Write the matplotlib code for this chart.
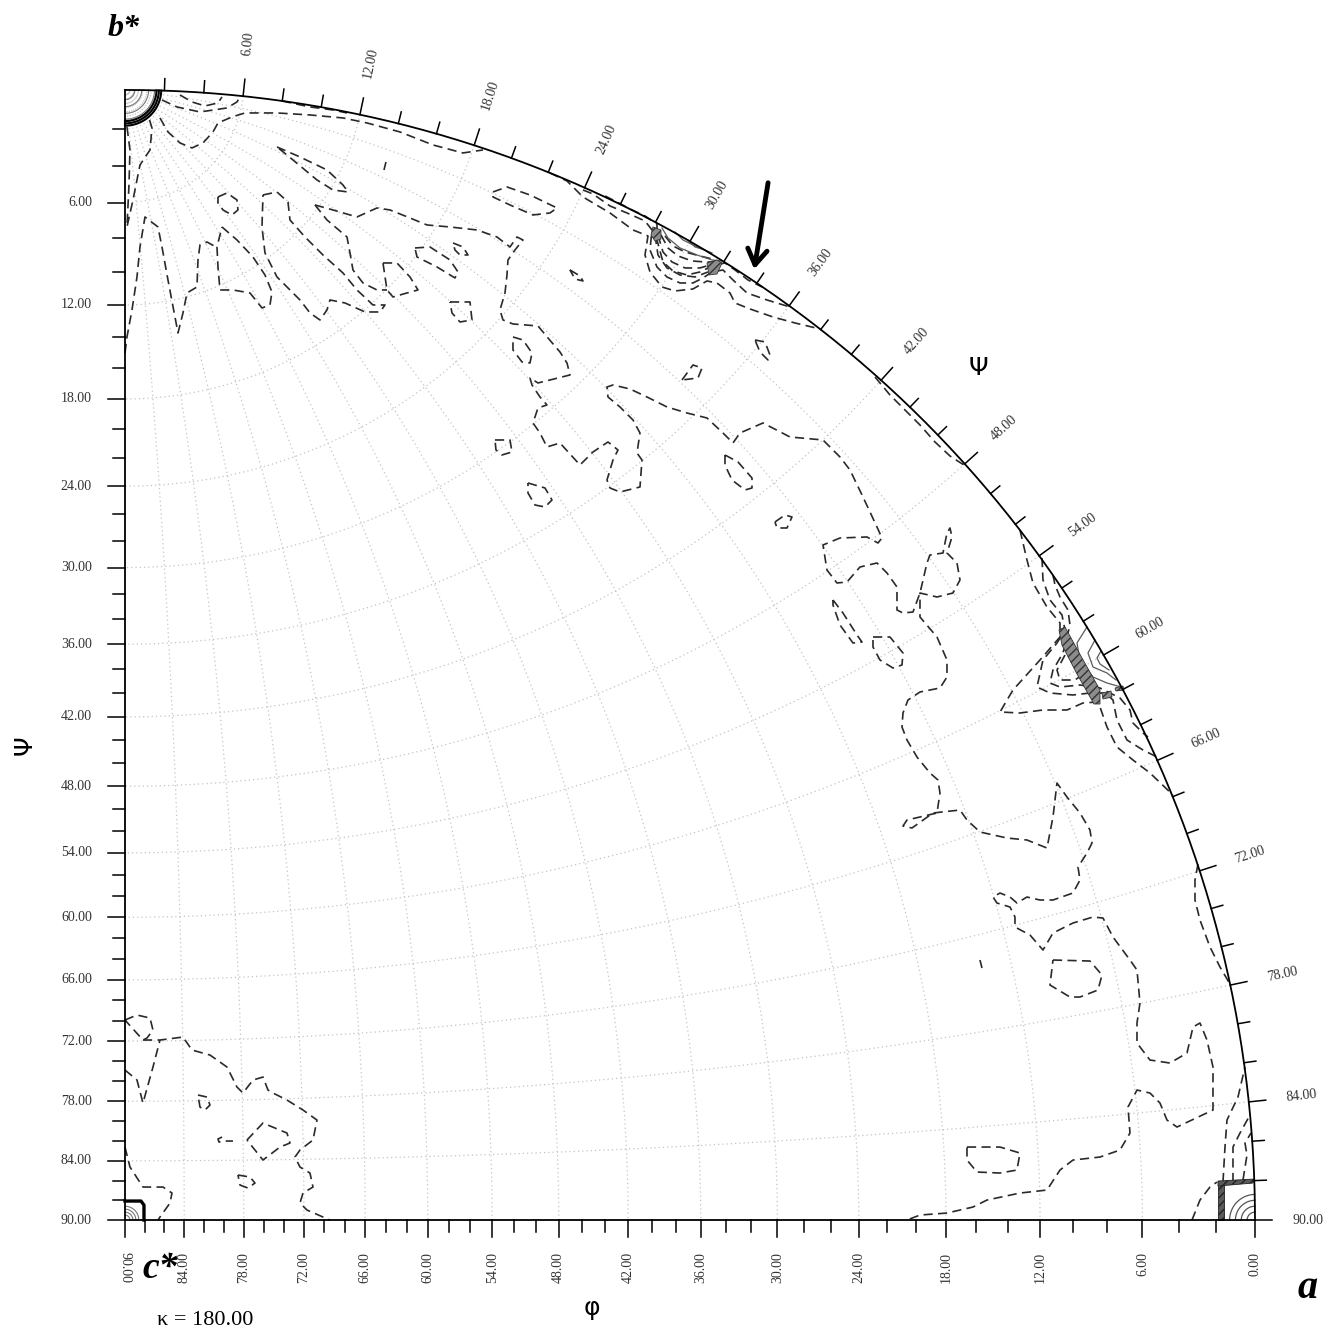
import numpy as np
import matplotlib
matplotlib.use("Agg")
import matplotlib.pyplot as plt
from matplotlib.patches import Polygon

# ---------------- axis values (degrees) ----------------
LEFT_PSI_LABELS = [6, 12, 18, 24, 30, 36, 42, 48, 54, 60, 66, 72, 78, 84, 90]
BOTTOM_PHI_LABELS = [90, 84, 78, 72, 66, 60, 54, 48, 42, 36, 30, 24, 18, 12, 6, 0]
RIM_PSI_LABELS = [6, 12, 18, 24, 30, 36, 42, 48, 54, 60, 66, 72, 78, 84, 90]
GRID_PSI = [6, 12, 18, 24, 30, 36, 42, 48, 54, 60, 66, 72, 78, 84]
GRID_PHI = [6, 12, 18, 24, 30, 36, 42, 48, 54, 60, 66, 72, 78, 84]
TICK_STEP = 2
KAPPA = 180.00

# self-peak contour radii around the crystal axes (angular radius, degrees)
B_STAR_ARCS = [0.5, 0.85, 1.2, 1.5]
B_STAR_DENSE = [1.6, 1.72, 1.84]
C_STAR_ARCS = [0.5, 0.8, 1.1, 1.4]
A_ARCS = [0.4, 0.7, 1.0, 1.3]

# arrow marking the peak near the rim (psi, radius in units of the rim)
ARROW_TIP = (33.5, 1.009)
ARROW_TAIL = (31.8, 1.080)

# ---------------- traced contours (map plane, c* at origin, rim radius = 1130) ----------------
MAP_RADIUS = 1130.0

NOISE_UPPER_LEFT = [
    [(2,1093),(5,1070),(4,1035),(2,993),(8,1020),(15,1055),(25,1070),(27,1092),(23,1105)],
    [(35,1102),(43,1088),(55,1077),(67,1072),(78,1077),(88,1088),(93,1097),(107,1103),(120,1107),
     (152,1107),(185,1105),(218,1102),(242,1097),(275,1088),(308,1075),(338,1067),(358,1070)],
    [(55,1125),(67,1118),(80,1114),(93,1117),(97,1123)],
    [(37,1120),(52,1113),(75,1108),(102,1112),(112,1118),(115,1123)],
    [(157,1119),(185,1113),(208,1110),(222,1107)],
    [(261,1058),(259,1050)],
    [(152,1073),(175,1063),(202,1050),(218,1035),(223,1028),(208,1030),(192,1040),(168,1060),(152,1073)],
    [(93,1023),(102,1027),(112,1020),(113,1010),(107,1005),(98,1010),(93,1017),(93,1023)],
    [(0,867),(2,883),(7,910),(12,943),(15,973),(20,1003),(33,993),(37,973),(43,940),(50,903),(53,887),
     (58,907),(62,927),(72,933),(73,960),(75,975),(82,978),(91,973)],
    [(97,993),(112,980),(128,963),(140,945),(147,928),(145,915),(137,912),(125,927),(108,930),(95,930),
     (93,953),(92,973),(97,993)],
    [(138,1025),(152,1028),(163,1018),(165,1000),(180,983),(198,965),(218,947),(232,930),(248,915),
     (260,915),(255,908),(240,908),(220,917),(205,920),(202,910),(195,900),(185,907),(175,920),(165,930),
     (152,943),(140,967),(137,993),(138,1025)],
    [(190,1015),(202,1000),(222,983),(225,967),(228,950),(238,937),(252,930),(262,930)],
    [(258,957),(272,957),(285,943),(293,930),(282,927),(268,923),(262,930),(258,957)],
    [(290,972),(305,973),(325,960),(333,948),(330,942),(312,953),(292,963),(290,972)],
    [(328,977),(338,973),(343,965),(335,965),(330,970),(328,977)],
    [(325,918),(345,918),(347,900),(335,898),(327,907),(325,918)],
    [(368,1028),(382,1033),(405,1025),(432,1012),(425,1007),(408,1005),(385,1015),(368,1023),(368,1028)],
    [(445,950),(455,944),(458,939),(450,941),(445,950)],
    [(388,883),(398,880),(407,867),(405,857),(397,858),(388,870),(388,883)],
]

NOISE_LONG_RIDGE = [
    (190,1015),(208,1010),(232,1003),(252,1012),(265,1010),(285,1002),(302,995),(325,993),(352,990),
    (372,983),(385,973),(392,983),(398,980),(390,970),(383,960),(382,945),(380,927),(375,910),(378,900),
    (388,896),(413,894),(423,882),(435,868),(442,857),(445,845),(425,840),(413,837),(405,842),(407,835),
    (415,823),(422,815),(413,812),(408,797),(415,787),(422,773),(435,777),(455,755),(468,768),(483,778),
    (493,770),(488,760),(482,740),(485,732),(495,728),(515,733),(517,760),(512,767),(515,787),(508,800),
    (495,813),(483,823),(482,833),(488,835),(505,831),(522,823),(542,813),(562,807),(582,802),(598,787),
    (608,777),(615,787),(638,797),(665,783),(698,780),(715,763),(725,750),(738,723),(752,693),(757,682),
    (753,677),(742,683),(715,682),(698,675),(702,650),(712,637),(722,638),(735,653),(752,657),(762,647),
    (772,633),(772,610),(778,607),(788,608),(795,627),(802,657),(805,665),(818,667),(822,687),(825,692),
    (827,683),(822,667),(832,657),(835,640),(828,627),(812,623),(795,627),(795,603),(812,583),(822,560),
    (822,543),(815,532),(795,528),(783,520),(778,507),(777,493),(782,480),(792,463),(805,447),(813,440),
    (815,427),(812,407),(782,400),(778,394),(787,392),(808,407),(835,410),(842,400),(855,388),(882,382),
    (902,380),(922,372),(928,403),(932,437),(942,423),(955,407),(965,390),(967,377),(962,367),(953,353),
    (955,340),(948,327),(928,320),(915,320),(902,323),(892,317),(885,323),(875,327),(868,323),(872,317),
    (885,313),(890,303),(890,293),(905,285),(918,270),(928,287),(948,297),(968,303),(978,302),(988,283),
    (1005,260),(1012,250),(1015,217),(1012,197),(1012,177),(1025,160),(1045,157),(1062,167),(1068,193),
    (1075,197),(1082,180),(1088,153),(1088,110),(1052,93),(1042,100),(1035,117),(1025,127),(1012,130),
    (1003,113),(1005,87),(995,70),(975,63),(948,60),(935,50),(922,30),(895,27),(862,20),(848,13),
    (822,7),(795,5),(782,0),
]

NOISE_MIDDLE = [
    [(370,780),(385,780),(387,768),(377,765),(371,770),(370,780)],
    [(403,737),(420,732),(427,720),(420,713),(410,715),(403,727),(403,737)],
    [(557,840),(568,855),(577,852),(573,842),(557,840)],
    [(630,880),(640,878),(645,865),(643,860),(635,868),(630,880)],
    [(600,765),(613,758),(627,742),(627,732),(620,730),(607,740),(600,755),(600,765)],
    [(650,698),(660,705),(667,703),(662,692),(652,692),(650,698)],
    [(708,620),(718,607),(732,585),(737,578),(728,577),(715,595),(708,615),(708,620)],
    [(748,583),(765,583),(778,567),(777,555),(768,552),(755,560),(748,573),(748,583)],
    [(928,260),(965,259),(977,245),(973,230),(955,223),(945,223),(925,235),(928,260)],
    [(842,73),(875,73),(895,67),(892,50),(875,47),(852,48),(842,60),(842,73)],
    [(855,260),(857,252)],
    [(1073,356),(1070,340),(1070,320),(1075,300),(1085,273),(1095,253),(1105,236)],
    [(750,843),(765,825),(780,810),(795,795),(810,778),(825,764),(842,753)],
]

NOISE_LOWER_LEFT = [
    [(0,200),(12,205),(25,202),(28,190),(22,182),(18,180),(0,200)],
    [(18,180),(35,180),(58,183),(67,170),(85,165),(102,153),(112,133),(118,127),(128,140),(138,143),
     (143,130),(148,127),(162,120),(178,110),(192,100),(188,80),(175,70),(170,63),(175,53),(185,47),
     (188,33),(178,27),(175,17),(182,10),(205,0)],
    [(0,150),(12,140),(18,117),(28,153),(35,180)],
    [(73,125),(82,123),(85,115),(80,110),(75,113),(73,125)],
    [(122,80),(138,97),(162,87),(165,77),(155,73),(138,60),(122,80)],
    [(97,83),(93,81),(94,78),(99,79),(108,79)],
    [(113,45),(125,43),(130,37),(123,32),(115,35),(113,45)],
    [(0,73),(5,53),(18,33),(38,33),(47,27),(45,17),(35,3),(33,0)],
]

PEAK30_DASHED = [
    [(425,1047),(442,1039),(458,1023),(485,1007),(508,990),(523,984),(520,965),(525,948),(537,933),
     (550,929),(568,931),(582,939),(592,937),(605,927),(610,917),(625,911),(648,903),(670,897),(695,891)],
    [(458,1030),(468,1026),(485,1014),(502,1007),(520,999),(527,990),(525,970),(532,953),(542,943),
     (555,937),(568,937),(578,942),(587,948),(598,950),(608,940),(622,927),(642,920),(665,913)],
    [(480,1024),(490,1019),(505,1011),(520,1004),(532,996),(532,980),(538,958),(548,949),(562,945),
     (575,948),(587,954),(600,957),(610,950),(623,940),(637,933)],
    [(530,985),(533,965),(542,952),(555,945),(570,943),(583,948)],
    [(533,985),(538,968),(547,958),(560,952),(575,952),(585,955)],
    [(536,985),(543,972),(553,964),(567,959),(580,958),(588,958)],
    [(540,984),(548,974),(560,968),(575,964),(587,961)],
]
PEAK30_SOLID = [
    [(537,992),(543,982),(555,972),(572,965),(587,960),(597,959)],
    [(550,988),(558,980),(572,973),(587,967)],
    [(563,980),(570,973),(580,970)],
]
PEAK30_BLOBS = [
    [(528,993),(536,990),(536,981),(530,979),(526,985)],
    [(582,957),(592,960),(597,957),(592,946),(584,945)],
]

PEAK60_DASHED = [
    [(895,690),(902,660),(908,637),(922,613),(935,597),(935,583),(915,560),(888,530),(875,508),(895,507),
     (918,510),(942,510),(958,517),(972,518),(975,513),(982,493),(992,473),(1008,460),(1025,447),(1048,425)],
    [(917,662),(918,640),(925,620),(937,605),(940,590),(932,577),(918,560),(912,533),(925,527),(948,525),
     (965,527),(980,527),(988,520),(992,500),(1002,480),(1018,470),(1032,463)],
    [(928,645),(930,635),(935,623),(943,610),(945,595),(938,567),(928,550),(925,537),(935,533),(955,535),
     (975,532),(995,522),(1005,510),(1008,497),(1018,487),(1023,483)],
    [(940,565),(932,550),(935,540),(950,540),(960,547)],
]
PEAK60_SOLID = [
    [(962,593),(952,577),(955,560),(968,543),(982,537),(996,533)],
    [(970,580),(963,567),(968,553),(982,547),(991,540)],
    [(976,569),(972,562),(975,556),(984,550)],
]
PEAK60_BANDS = [
    [(934,590),(940,593),(957,562),(975,530),(975,516),(969,516),(952,546),(937,575)],
    [(977,527),(986,529),(987,523),(978,521)],
    [(990,532),(998,534),(999,530),(991,529)],
]

A_DASHED = [
    [(1067,0),(1075,20),(1085,33),(1092,38)],
    [(1098,38),(1100,73),(1102,100),(1113,123),(1120,153)],
    [(1108,38),(1108,73),(1115,87),(1125,105)],
    [(1118,40),(1122,65),(1120,77),(1126,87)],
]
A_BANDS = [
    [(1093,0),(1099,0),(1099,35),(1093,35)],
    [(1093,34),(1128,37),(1129,41),(1093,39)],
]
C_STAR_BOX = [(0,19),(16,19),(19,15),(19,0)]

# ---------------- geometry helpers ----------------
def proj(psi, phi):
    """stereographic projection along c*; psi = angle from b*, phi = azimuth from a toward c*"""
    p = np.radians(psi); f = np.radians(phi)
    x = np.sin(p) * np.cos(f); y = np.cos(p); z = np.sin(p) * np.sin(f)
    return x / (1 + z), y / (1 + z)


def cone(axis, alpha_deg, n=80):
    t = np.radians(np.linspace(0, 90, n))
    a = np.radians(alpha_deg)
    s, c = np.sin(a), np.cos(a)
    if axis == 'b':
        x, y, z = s * np.cos(t), c * np.ones_like(t), s * np.sin(t)
    elif axis == 'c':
        x, y, z = s * np.cos(t), s * np.sin(t), c * np.ones_like(t)
    else:
        x, y, z = c * np.ones_like(t), s * np.cos(t), s * np.sin(t)
    return x / (1 + z), y / (1 + z)


def m(tr):
    a = np.asarray(tr, dtype=float) / MAP_RADIUS
    return a[:, 0], a[:, 1]


# ---------------- figure ----------------
fig = plt.figure(figsize=(13.29, 13.30), dpi=100)
ax = fig.add_axes([0, 0, 1, 1])
ax.set_xlim(-0.1106, 1.0655)
ax.set_ylim(-0.0973, 1.0796)
ax.axis('off')

SERIF = 'Liberation Serif'
GRID_KW = dict(color='#c4c4c4', lw=0.9, ls=(0, (1, 2.4)), zorder=1)
DASH_KW = dict(color='#2a2a2a', lw=1.2, ls=(0, (5.5, 3.2)), zorder=3)
SOLID_KW = dict(color='#5a5a5a', lw=0.9, zorder=3)

# grid
for ps in GRID_PSI:
    X, Y = proj(ps, np.linspace(0, 90, 200))
    ax.plot(X, Y, **GRID_KW)
for ph in GRID_PHI:
    X, Y = proj(np.linspace(0, 90, 300), ph)
    ax.plot(X, Y, **GRID_KW)

# frame
ax.plot([0, 0], [0, 1], color='black', lw=1.3, zorder=5)
ax.plot([0, 1], [0, 0], color='black', lw=1.3, zorder=5)
X, Y = proj(np.linspace(0, 90, 400), 0)
ax.plot(X, Y, color='black', lw=1.3, zorder=5)

LMAJ, LMIN = 17 / MAP_RADIUS, 12 / MAP_RADIUS
for v in range(TICK_STEP, 91, TICK_STEP):
    L = LMAJ if v % 6 == 0 else LMIN
    _, Yl = proj(v, 90)
    ax.plot([-L, 0], [Yl, Yl], color='black', lw=1.1, zorder=5)
    r = np.radians(v)
    ax.plot([np.sin(r), (1 + L) * np.sin(r)], [np.cos(r), (1 + L) * np.cos(r)], color='black', lw=1.1, zorder=5)
for v in range(0, 91, TICK_STEP):
    L = LMAJ if v % 6 == 0 else LMIN
    Xb, _ = proj(90, v)
    ax.plot([Xb, Xb], [0, -L], color='black', lw=1.1, zorder=5)

# tick labels
for v in LEFT_PSI_LABELS:
    _, Yl = proj(v, 90)
    ax.text(-0.0292, Yl, f"{v:.2f}", ha='right', va='center', fontsize=10, family=SERIF, color='#333333')
for v in BOTTOM_PHI_LABELS:
    Xb, _ = proj(90, v)
    ax.text(Xb, -0.0283, f"{v:.2f}", ha='center', va='top', rotation=(-90 if v == 90 else 90),
            fontsize=10, family=SERIF, color='#333333')
for v in RIM_PSI_LABELS:
    r = np.radians(v)
    ax.text(1.047 * np.sin(r), 1.047 * np.cos(r), f"{v:.2f}", ha='center', va='center', rotation=90 - v,
            rotation_mode='anchor', fontsize=10, family=SERIF, color='#333333')

# self peaks at the crystal axes
for a in B_STAR_ARCS:
    ax.plot(*cone('b', a), color='#777777', lw=0.8, zorder=4)
for a in B_STAR_DENSE:
    ax.plot(*cone('b', a), color='black', lw=1.5, zorder=4)
for a in C_STAR_ARCS:
    ax.plot(*cone('c', a), color='#777777', lw=0.8, zorder=4)
for a in A_ARCS:
    ax.plot(*cone('a', a), color='#555555', lw=0.9, zorder=4)
ax.plot(*m(C_STAR_BOX), color='black', lw=2.4, zorder=4)
for poly in A_BANDS:
    ax.add_patch(Polygon(np.asarray(poly) / MAP_RADIUS, closed=True, facecolor='#5a5a5a',
                         edgecolor='#222222', lw=0.6, hatch='////', zorder=4))

# noise-level contours
for tr in NOISE_UPPER_LEFT + NOISE_MIDDLE + NOISE_LOWER_LEFT + [NOISE_LONG_RIDGE]:
    ax.plot(*m(tr), **DASH_KW)

# peaks on the rim
for tr in PEAK30_DASHED + PEAK60_DASHED + A_DASHED:
    ax.plot(*m(tr), **DASH_KW)
for tr in PEAK30_SOLID + PEAK60_SOLID:
    ax.plot(*m(tr), **SOLID_KW)
for poly in PEAK30_BLOBS + PEAK60_BANDS:
    ax.add_patch(Polygon(np.asarray(poly) / MAP_RADIUS, closed=True, facecolor='#8c8c8c',
                         edgecolor='#333333', lw=0.6, hatch='////', zorder=4))

# arrow
tp, tr_ = np.radians(ARROW_TIP[0]), ARROW_TIP[1]
sp, sr = np.radians(ARROW_TAIL[0]), ARROW_TAIL[1]
ax.annotate('', xy=(tr_ * np.sin(tp), tr_ * np.cos(tp)), xytext=(sr * np.sin(sp), sr * np.cos(sp)),
            arrowprops=dict(arrowstyle='->,head_length=0.55,head_width=0.35', lw=3.5, color='black',
                            mutation_scale=20, shrinkA=0, shrinkB=0), zorder=6)

# axis names
BI = dict(family=SERIF, fontweight='bold', fontstyle='italic')
ax.text(-1 / MAP_RADIUS, 1191 / MAP_RADIUS, 'b*', ha='center', va='center', fontsize=23, **BI)
ax.text(35 / MAP_RADIUS, -48 / MAP_RADIUS, 'c*', ha='center', va='center', fontsize=27, **BI)
ax.text(1183 / MAP_RADIUS, -68 / MAP_RADIUS, 'a', ha='center', va='center', fontsize=29, **BI)
ax.text(80 / MAP_RADIUS, -100 / MAP_RADIUS, f"\u03ba = {KAPPA:.2f}", ha='center', va='center',
        fontsize=16, family=SERIF)
ax.text(467 / MAP_RADIUS, -88 / MAP_RADIUS, '\u03c6', ha='center', va='center', fontsize=18, family='DejaVu Sans')
ax.text(-100 / MAP_RADIUS, 475 / MAP_RADIUS, '\u03a8', ha='center', va='center', fontsize=18,
        family='DejaVu Sans', rotation=90)
ax.text(853 / MAP_RADIUS, 852 / MAP_RADIUS, '\u03a8', ha='center', va='center', fontsize=18, family='DejaVu Sans')

fig.savefig('out.png', dpi=100)
